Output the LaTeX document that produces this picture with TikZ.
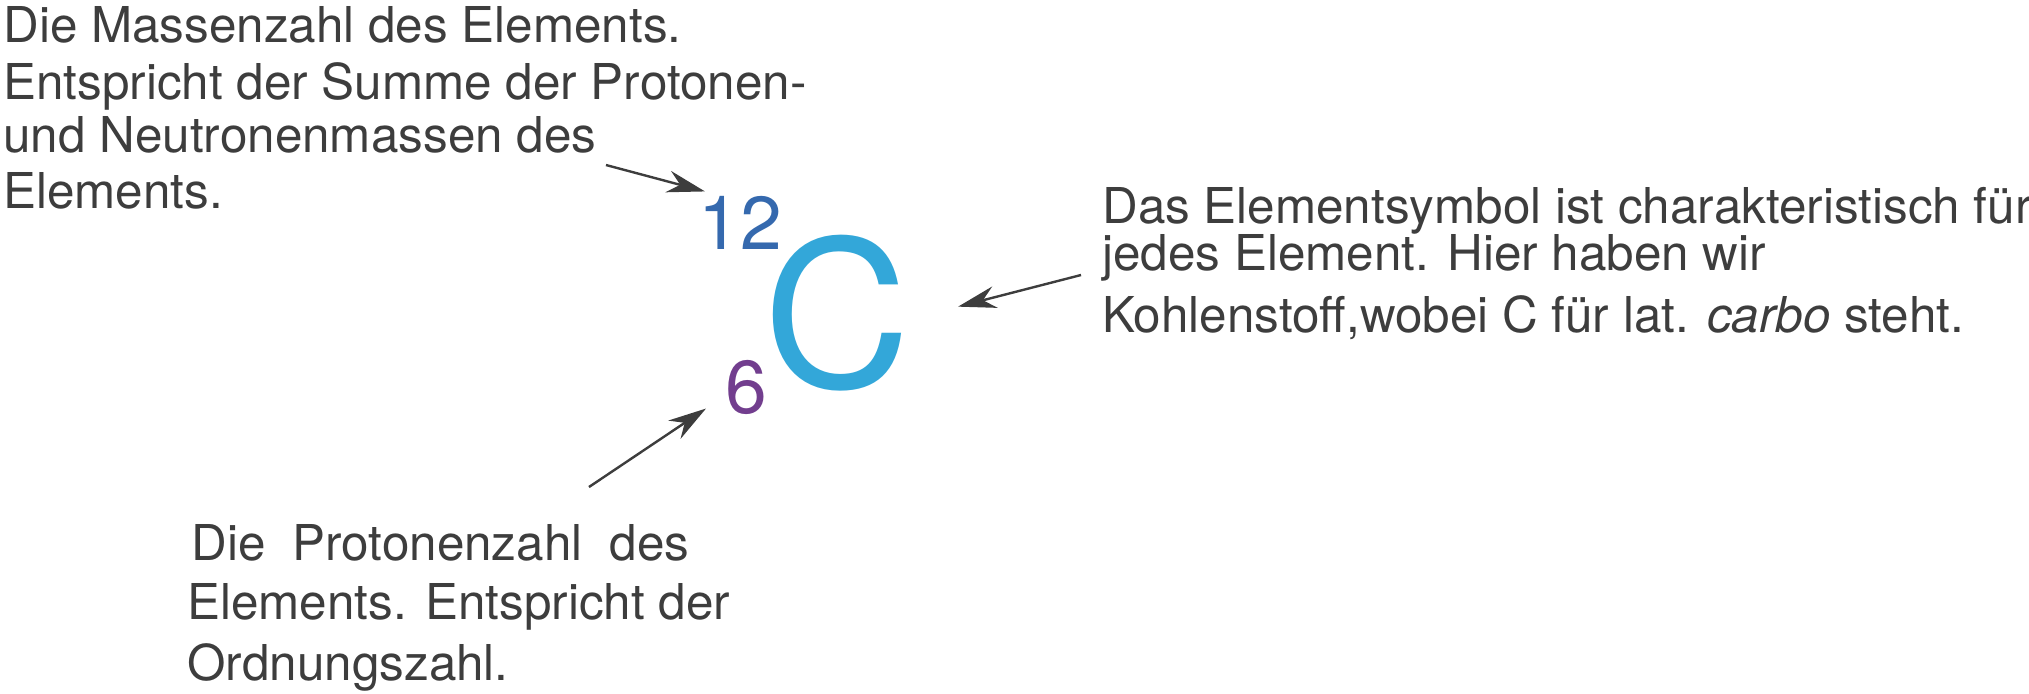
\documentclass[tikz,border=0pt]{standalone}
\usepackage{fontspec}
\setmainfont{TeX Gyre Heros}
\usetikzlibrary{arrows.meta}
\definecolor{txtgray}{HTML}{3D3D3D}
\definecolor{massblue}{HTML}{3569AE}
\definecolor{symbblue}{HTML}{33A7D9}
\definecolor{protpurple}{HTML}{723E8E}
\begin{document}
\begin{tikzpicture}[x=0.5pt,y=-0.5pt,
    note/.style={anchor=base west,inner sep=0pt,text=txtgray,font=\fontsize{24.7}{28}\selectfont},
    symb/.style={anchor=base west,inner sep=0pt},
    pointer/.style={-{Stealth[length=19pt,width=11pt]},line width=1.2pt,draw=txtgray}]
  \useasboundingbox (0,0) rectangle (2029,693);

  % das Elementsymbol mit Massen- und Protonenzahl
  \node[symb,text=massblue,font=\fontsize{37.5}{40}\selectfont] (mass) at (698,249) {12};
  \node[symb,text=protpurple,font=\fontsize{37.5}{40}\selectfont] (prot) at (725,413) {6};
  \node[symb,text=symbblue,font=\fontsize{102}{110}\selectfont] (carbon) at (763,387) {C};

  % Massenzahl
  \node[note] (massA) at (3,42) {Die Massenzahl des Elements.};
  \node[note] (massB) at (3,99) {Entspricht der Summe der Protonen-};
  \node[note] (massC) at (3,152) {und Neutronenmassen des};
  \node[note] (massD) at (3,208) {Elements.};

  % Elementsymbol
  \node[note] (symbA) at (1102,223) {Das Elementsymbol ist charakteristisch für};
  \node[note] (symbB) at (1102,270) {jedes Element. Hier haben wir};
  \node[note] (symbC) at (1102,332) {Kohlenstoff,wobei C für lat. \textit{carbo} steht.};

  % Protonenzahl
  \node[note] (protA) at (191,560) {Die\hspace{0.55em}Protonenzahl\hspace{0.55em}des};
  \node[note] (protB) at (187,619) {Elements. Entspricht der};
  \node[note] (protC) at (187,680) {Ordnungszahl.};

  \coordinate (massTail) at (606,165);
  \coordinate (protTail) at (589,487);
  \coordinate (symbTail) at (1081,275);

  \draw[pointer] (massTail) -- ([xshift=3.5pt,yshift=2pt]mass.north west);
  \draw[pointer] (protTail) -- ([xshift=-9.5pt,yshift=3pt]prot.south west);
  \draw[pointer] (symbTail) -- ([xshift=23.5pt,yshift=3pt]carbon.east);
\end{tikzpicture}
\end{document}
